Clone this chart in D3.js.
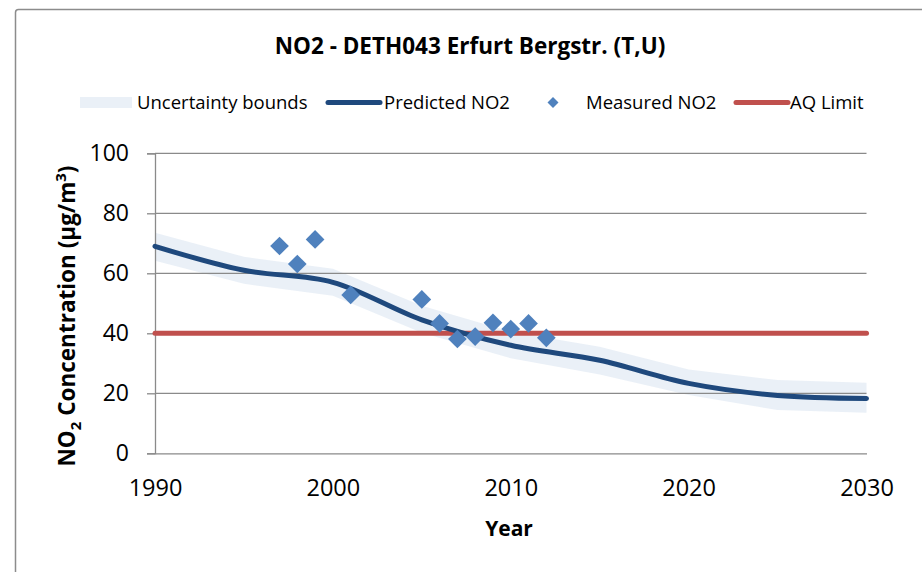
<!DOCTYPE html>
<html>
<head>
<meta charset="utf-8">
<script src="https://cdn.jsdelivr.net/npm/d3@7"></script>
<style>
  body { margin: 0; background: #fff; }
  text { font-family: "Open Sans", sans-serif; fill: #000; }
</style>
</head>
<body>
<div id="chart"></div>
<script>
// data
var predYears = [1990, 1995, 2000, 2005, 2010, 2015, 2020, 2025, 2030];
var predicted = [69, 61, 57, 44.5, 36, 31, 23.3, 19.3, 18.3];
var upperBound = [73.5, 65.5, 61.5, 49.2, 40.5, 35.5, 27.9, 24.4, 23.5];
var lowerBound = [64.2, 56.5, 52.5, 40.2, 31.7, 26.3, 19.4, 14.4, 13.5];

var measYears = [1997, 1998, 1999, 2001, 2005, 2006, 2007, 2008, 2009, 2010, 2011, 2012];
var measured = [69.1, 63.1, 71.3, 52.8, 51.3, 43.3, 38.1, 38.9, 43.5, 41.4, 43.3, 38.5];

var aqYears = [1990, 2030];
var aqLimit = [40, 40];

var xTicks = [1990, 2000, 2010, 2020, 2030];
var yTicks = [0, 20, 40, 60, 80, 100];

var width = 922, height = 572;
var margin = {top: 153, right: 55, bottom: 119, left: 155};

var svg = d3.select("#chart").append("svg")
    .attr("width", width)
    .attr("height", height);

// outer chart frame
svg.append("rect")
    .attr("x", 15.5).attr("y", 9.5)
    .attr("width", 920).attr("height", 600)
    .attr("rx", 3)
    .attr("fill", "none")
    .attr("stroke", "#8c8c8c")
    .attr("stroke-width", 1.5);

var x = d3.scaleLinear()
    .domain([1990, 2030])
    .range([margin.left, width - margin.right - 0.5]);
var y = d3.scaleLinear()
    .domain([0, 100])
    .range([height - margin.bottom + 0.3, margin.top + 0.3]);

// uncertainty band
var band = predYears.map(function(d, i) { return {year: d, lo: lowerBound[i], hi: upperBound[i]}; });
svg.append("path")
    .datum(band)
    .attr("fill", "#dce6f2")
    .attr("fill-opacity", 0.6)
    .attr("d", d3.area()
        .x(function(d) { return x(d.year); })
        .y0(function(d) { return y(d.lo); })
        .y1(function(d) { return y(d.hi); }));

// gridlines
svg.append("g")
    .selectAll("line")
    .data(yTicks.slice(1))
    .enter().append("line")
    .attr("x1", x(1990)).attr("x2", x(2030))
    .attr("y1", function(d) { return y(d); })
    .attr("y2", function(d) { return y(d); })
    .attr("stroke", "#8a8a8a")
    .attr("stroke-width", 1.3);

// y axis
var yAxis = svg.append("g")
    .attr("transform", "translate(" + x(1990) + ",0)")
    .call(d3.axisLeft(y).tickValues(yTicks).tickSize(8).tickPadding(18));
yAxis.selectAll("line, path").attr("stroke", "#8a8a8a").attr("stroke-width", 1.3);
yAxis.selectAll("text")
    .style("font-family", "Open Sans")
    .style("font-size", "23px")
    .attr("fill", "#000");

// x axis
var xAxis = svg.append("g")
    .attr("transform", "translate(0," + y(0) + ")")
    .call(d3.axisBottom(x).tickValues(xTicks).tickFormat(d3.format("d")).tickSize(0).tickPadding(26));
xAxis.selectAll("path").attr("stroke", "#8a8a8a").attr("stroke-width", 1.3);
xAxis.selectAll("text")
    .style("font-family", "Open Sans")
    .style("font-size", "23.5px")
    .attr("fill", "#000");

// AQ limit
svg.append("path")
    .datum(aqYears.map(function(d, i) { return [d, aqLimit[i]]; }))
    .attr("fill", "none")
    .attr("stroke", "#c0504d")
    .attr("stroke-width", 5)
    .attr("stroke-linecap", "round")
    .attr("d", d3.line()
        .x(function(d) { return x(d[0]); })
        .y(function(d) { return y(d[1]); }));

// predicted line
svg.append("path")
    .datum(predYears.map(function(d, i) { return [d, predicted[i]]; }))
    .attr("fill", "none")
    .attr("stroke", "#1f497d")
    .attr("stroke-width", 5)
    .attr("stroke-linecap", "round")
    .attr("stroke-linejoin", "round")
    .attr("d", d3.line()
        .curve(d3.curveCatmullRom.alpha(0.5))
        .x(function(d) { return x(d[0]); })
        .y(function(d) { return y(d[1]); }));

// measured points
var diamond = d3.symbol().type(d3.symbolSquare).size(175);
svg.append("g")
    .selectAll("path")
    .data(measYears.map(function(d, i) { return [d, measured[i]]; }))
    .enter().append("path")
    .attr("d", diamond)
    .attr("fill", "#4f81bd")
    .attr("transform", function(d) { return "translate(" + x(d[0]) + "," + y(d[1]) + ") rotate(45)"; });

// title
svg.append("text")
    .attr("x", 470).attr("y", 54)
    .attr("text-anchor", "middle")
    .style("font-size", "22.5px")
    .style("font-weight", "bold")
    .text("NO2 - DETH043 Erfurt Bergstr. (T,U)");

// legend
var legend = svg.append("g").style("font-size", "18.5px");
legend.append("rect")
    .attr("x", 80).attr("y", 97).attr("width", 52).attr("height", 11)
    .attr("fill", "#dce6f2").attr("fill-opacity", 0.6);
legend.append("text").attr("x", 137).attr("y", 109).text("Uncertainty bounds");
legend.append("line")
    .attr("x1", 328).attr("x2", 380).attr("y1", 102.5).attr("y2", 102.5)
    .attr("stroke", "#1f497d").attr("stroke-width", 5).attr("stroke-linecap", "round");
legend.append("text").attr("x", 384).attr("y", 109).text("Predicted NO2");
legend.append("path")
    .attr("d", d3.symbol().type(d3.symbolSquare).size(60))
    .attr("fill", "#4f81bd")
    .attr("transform", "translate(553,102.5) rotate(45)");
legend.append("text").attr("x", 586).attr("y", 109).text("Measured NO2");
legend.append("line")
    .attr("x1", 736).attr("x2", 788).attr("y1", 102.5).attr("y2", 102.5)
    .attr("stroke", "#c0504d").attr("stroke-width", 5).attr("stroke-linecap", "round");
legend.append("text").attr("x", 790).attr("y", 109).text("AQ Limit");

// axis titles
svg.append("text")
    .attr("x", 509).attr("y", 536)
    .attr("text-anchor", "middle")
    .style("font-size", "21px")
    .style("font-weight", "bold")
    .text("Year");

var yTitle = svg.append("text")
    .attr("transform", "translate(75,316) rotate(-90)")
    .attr("text-anchor", "middle")
    .style("font-size", "22.5px")
    .style("font-weight", "bold");
yTitle.append("tspan").text("NO");
yTitle.append("tspan").attr("dy", 6).style("font-size", "15px").text("2");
yTitle.append("tspan").attr("dy", -6).text(" Concentration (µg/m");
yTitle.append("tspan").attr("dy", -9).style("font-size", "15px").text("3");
yTitle.append("tspan").attr("dy", 9).text(")");
</script>
</body>
</html>
